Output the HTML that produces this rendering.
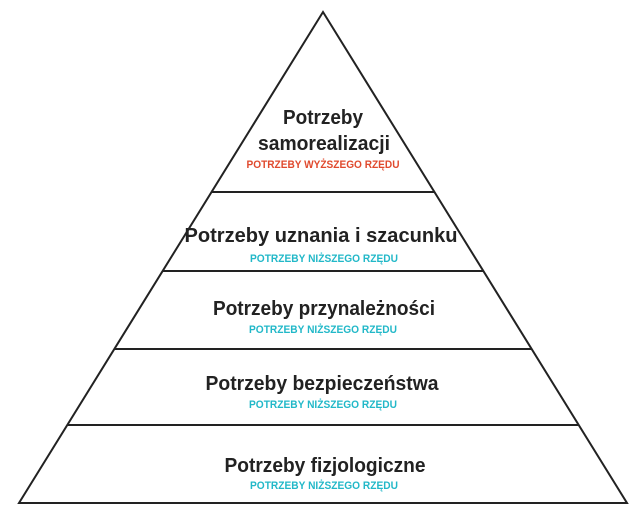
<!DOCTYPE html>
<html><head><meta charset="utf-8"><style>
html,body{margin:0;padding:0;background:#fff;width:640px;height:513px;overflow:hidden}
svg{display:block}
.t{font-family:"Liberation Sans",sans-serif;font-weight:bold;font-size:20px;fill:#222}
.s{font-family:"Liberation Sans",sans-serif;font-weight:bold;font-size:11px}
</style></head><body>
<svg width="640" height="513" viewBox="0 0 640 513">
<g stroke="#222" stroke-width="2" fill="none">
<polygon points="323,12 19,503 627,503" stroke-linejoin="miter"/>
<line x1="212" y1="192" x2="434" y2="192"/>
<line x1="163" y1="271" x2="483" y2="271"/>
<line x1="115" y1="349" x2="531" y2="349"/>
<line x1="68" y1="425" x2="578" y2="425"/>
</g>
<g text-anchor="middle">
<text class="t" x="323" y="124" textLength="80" lengthAdjust="spacingAndGlyphs">Potrzeby</text>
<text class="t" x="324" y="150" textLength="132" lengthAdjust="spacingAndGlyphs">samorealizacji</text>
<text class="s" x="323" y="168" fill="#e04a2e" textLength="153" lengthAdjust="spacingAndGlyphs">POTRZEBY WYŻSZEGO RZĘDU</text>
<text class="t" x="321" y="242" textLength="273" lengthAdjust="spacingAndGlyphs">Potrzeby uznania i szacunku</text>
<text class="s" x="324" y="262" fill="#22b8c8" textLength="148" lengthAdjust="spacingAndGlyphs">POTRZEBY NIŻSZEGO RZĘDU</text>
<text class="t" x="324" y="315" textLength="222" lengthAdjust="spacingAndGlyphs">Potrzeby przynależności</text>
<text class="s" x="323" y="333" fill="#22b8c8" textLength="148" lengthAdjust="spacingAndGlyphs">POTRZEBY NIŻSZEGO RZĘDU</text>
<text class="t" x="322" y="390" textLength="233" lengthAdjust="spacingAndGlyphs">Potrzeby bezpieczeństwa</text>
<text class="s" x="323" y="408" fill="#22b8c8" textLength="148" lengthAdjust="spacingAndGlyphs">POTRZEBY NIŻSZEGO RZĘDU</text>
<text class="t" x="325" y="472" textLength="201" lengthAdjust="spacingAndGlyphs">Potrzeby fizjologiczne</text>
<text class="s" x="324" y="489" fill="#22b8c8" textLength="148" lengthAdjust="spacingAndGlyphs">POTRZEBY NIŻSZEGO RZĘDU</text>
</g>
</svg>
</body></html>
